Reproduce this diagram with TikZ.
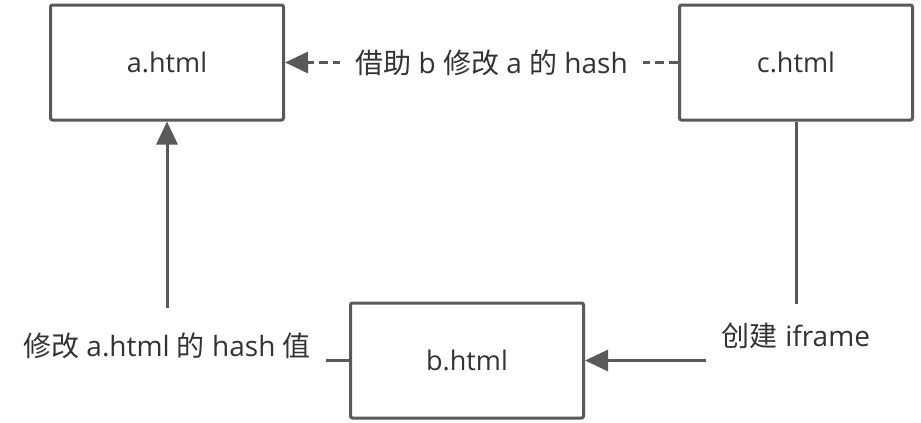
\documentclass[tikz,border=0pt]{standalone}
\usepackage{fontspec}
\setmainfont{Open Sans}
\newfontfamily\cjk{Noto Sans CJK SC}
\usetikzlibrary{arrows.meta}
\definecolor{linegray}{HTML}{595959}
\definecolor{textgray}{HTML}{333333}
\tikzset{
  box/.style={draw=linegray,line width=1.5pt,fill=white,rounded corners=1pt,
    minimum width=116.5pt,minimum height=57.5pt,text=textgray,font=\fontsize{13.5}{16}\selectfont},
  conn/.style={draw=linegray,line width=1.5pt,-{Triangle[length=11.5pt,width=10.5pt]}},
  lbl/.style={fill=white,inner sep=0pt,text=textgray,font=\fontsize{14}{16}\selectfont}
}
\begin{document}
\begin{tikzpicture}[x=0.5pt,y=-0.5pt]
      \useasboundingbox(0,0)rectangle(921,423);
      \foreach \n/\x/\y/\t in{%
        a/167/62.5/a.html,
        c/796/62.5/c.html,
        b/467/360.5/b.html
      }{
        \node[box](\n) at(\x,\y){\t};
      }
      \draw[conn,dash pattern=on 4.5pt off 2.5pt](c.west)--(a.east);
      \draw[conn](b.west)-|(a.south);
      \draw[conn](c.south)|-(b.east);
      \node[lbl,minimum width=151.5pt,minimum height=20pt](hashlbl) at(491.5,63)
        {{\cjk 借助} b {\cjk 修改} a {\cjk 的} hash};
      \node[lbl,minimum width=159pt,minimum height=38pt](modlbl) at(167,346)
        {{\cjk 修改} a.html {\cjk 的} hash {\cjk 值}};
      \node[lbl,minimum width=90pt,minimum height=32pt](iflbl) at(796,336)
        {{\cjk 创建} iframe};
    \end{tikzpicture}
\end{document}
